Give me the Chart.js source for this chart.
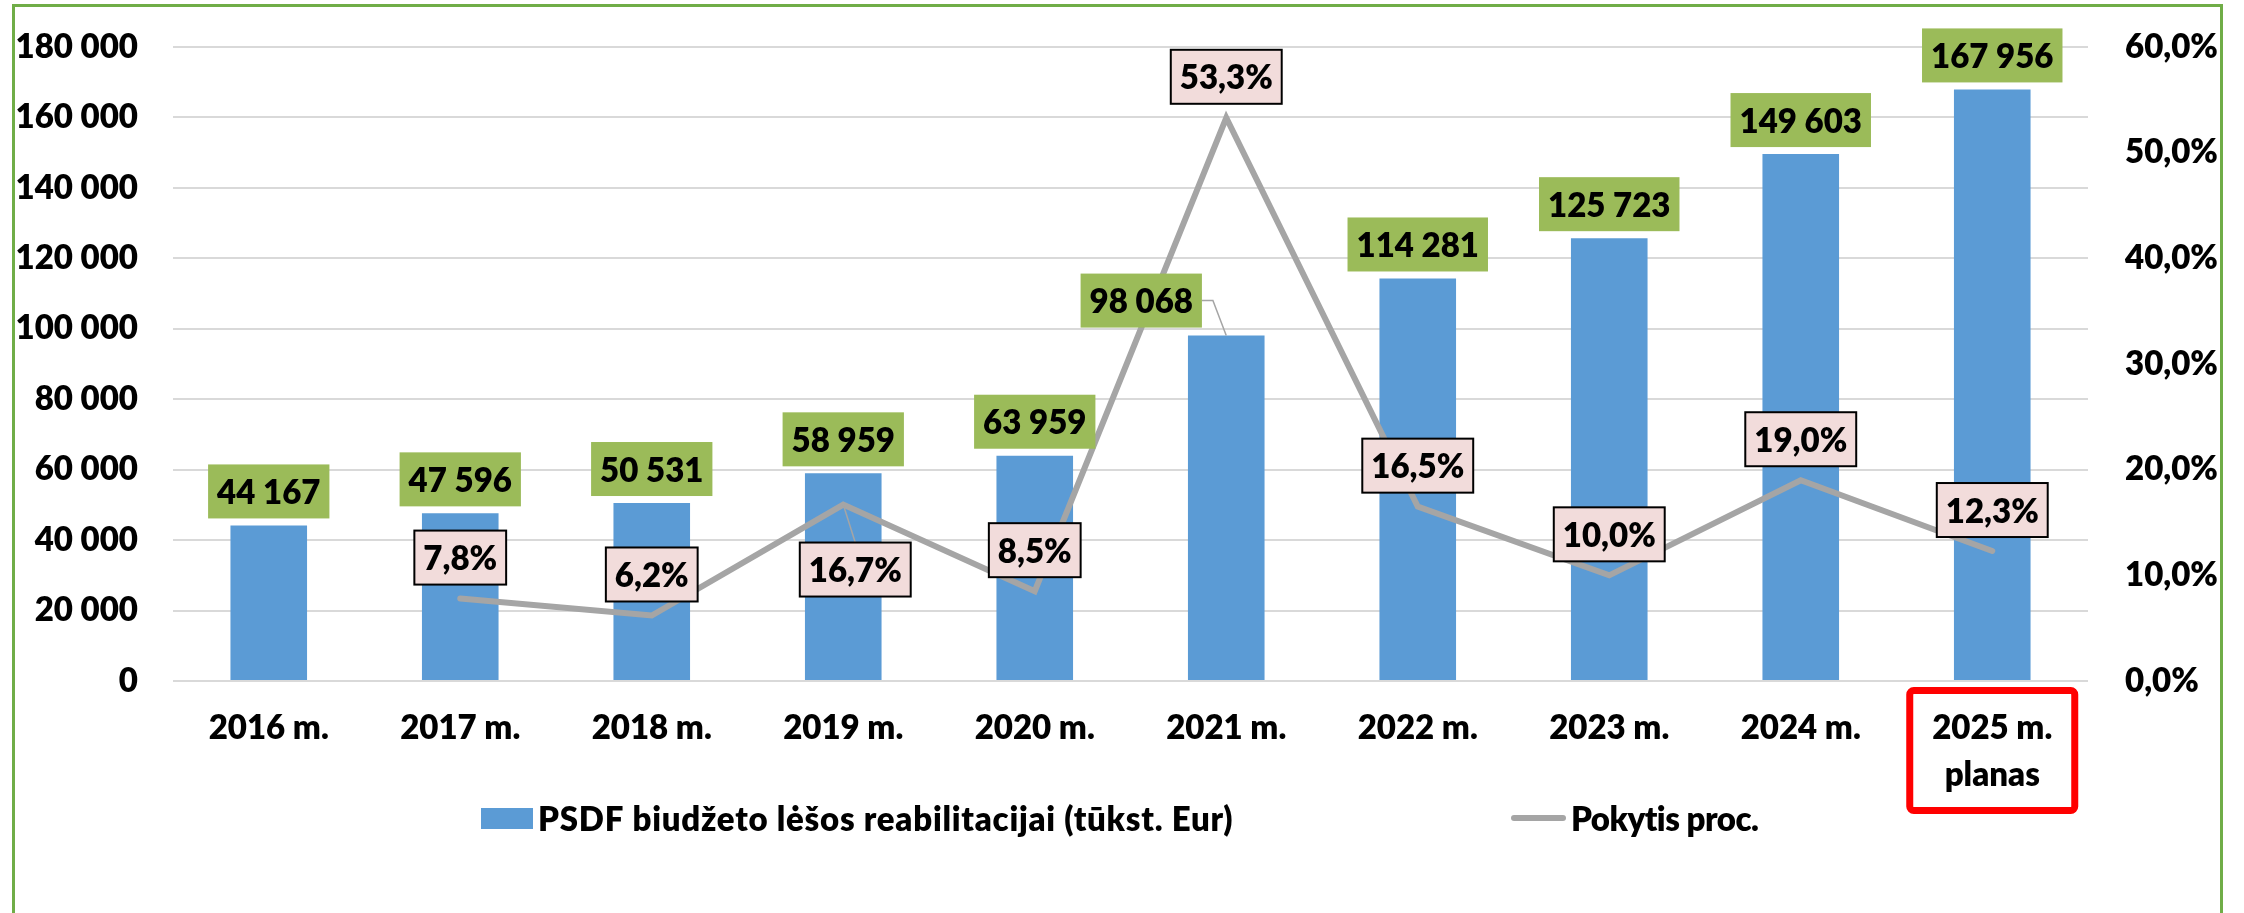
<!DOCTYPE html>
<html>
<head>
<meta charset="utf-8">
<script src="https://cdn.jsdelivr.net/npm/chart.js@4.4.1/dist/chart.umd.min.js"></script>
<style>
    html, body { margin: 0; padding: 0; background: #fff; }
    canvas     { display: block; }
</style>
</head>
<body>
<canvas id="chart" width="2244" height="913"></canvas>
<script>
const YEARS      = ['2016 m.', '2017 m.', '2018 m.', '2019 m.', '2020 m.',
                    '2021 m.', '2022 m.', '2023 m.', '2024 m.', ['2025 m.', 'planas']];
const BUDGET     = [44167, 47596, 50531, 58959, 63959, 98068, 114281, 125723, 149603, 167956];
const CHANGE_PCT = [null, 7.8, 6.2, 16.7, 8.5, 53.3, 16.5, 10.0, 19.0, 12.3];
const BAR_NAME   = 'PSDF biudžeto lėšos reabilitacijai (tūkst. Eur)';
const LINE_NAME  = 'Pokytis proc.';
const LEFT_MAX   = 180000, LEFT_STEP  = 20000;
const RIGHT_MAX  = 60,     RIGHT_STEP = 10;

const FONT       = 'Lato, "Open Sans", sans-serif';
const FONT_SIZE  = 33;
const WEIGHT     = '800';
const BAR_COLOR  = '#5B9BD5';
const LINE_COLOR = '#A5A5A5';
const GREEN_TAG  = '#9BBB59';
const PINK_TAG   = '#F2DCDB';
const FRAME      = '#70AD47';

// labels that Excel moved away from their default spot (index -> shift)
const BAR_TAG_MOVED  = { 5: { dx: -85, dy: -35 } };
const LINE_TAG_BELOW = { 3: { dx: 12, gap: 38 } };

const fmtThousands = v => String(v).replace(/\B(?=(\d{3})+(?!\d))/g, ' ');
const fmtPct       = v => v.toFixed(1).replace('.', ',') + '%';
const font         = () => `${WEIGHT} ${FONT_SIZE}px ${FONT}`;


function drawTag(ctx, text, cx, cy, fill, border) {
    ctx.font = font();
    const w = ctx.measureText(text).width + 18;
    const h = 54;
    ctx.fillStyle = fill;
    ctx.fillRect(cx - w / 2, cy - h / 2, w, h);
    if (border) {
        ctx.lineWidth = 2;
        ctx.strokeStyle = '#000';
        ctx.strokeRect(cx - w / 2, cy - h / 2, w, h);
    }
    ctx.fillStyle = '#000';
    ctx.textAlign = 'center';
    ctx.textBaseline = 'middle';
    ctx.fillText(text, cx, cy + 2);
    return { w, h };
}

// y axes: keep width fixed and stop tick padding from pushing the plot down
function fixAxis(width) {
    return s => {
        s.width = width;
        s.paddingTop = 0;
        s.paddingBottom = 0;
    };
}

const decorations = {
    id: 'decorations',
    beforeDraw(chart) {
        const ctx = chart.ctx;
        ctx.save();
        ctx.fillStyle = '#fff';
        ctx.fillRect(0, 0, chart.width, chart.height);
        ctx.strokeStyle = FRAME;
        ctx.lineWidth = 3;
        ctx.strokeRect(13.5, 5.5, 2208, 930);   // bottom edge is off the picture
        ctx.restore();
    },
    afterDatasetsDraw(chart) {
        const ctx  = chart.ctx;
        const bars = chart.getDatasetMeta(1).data;
        const pts  = chart.getDatasetMeta(0).data;
        ctx.save();

        // value tags on bars
        bars.forEach((bar, i) => {
            const text  = fmtThousands(BUDGET[i]);
            const moved = BAR_TAG_MOVED[i];
            if (moved) {
                const cx = bar.x + moved.dx, cy = bar.y + moved.dy;
                ctx.font = font();
                const w = ctx.measureText(text).width + 18;
                ctx.strokeStyle = LINE_COLOR;
                ctx.lineWidth = 1.5;
                ctx.beginPath();
                ctx.moveTo(cx + w / 2, cy);
                ctx.lineTo(cx + w / 2 + 11, cy);
                ctx.lineTo(bar.x, bar.y);
                ctx.stroke();
                drawTag(ctx, text, cx, cy, GREEN_TAG, false);
            } else {
                drawTag(ctx, text, bar.x, bar.y - 7 - 27, GREEN_TAG, false);
            }
        });

        // percent tags on line
        pts.forEach((pt, i) => {
            if (CHANGE_PCT[i] === null || pt.skip) return;
            const text  = fmtPct(CHANGE_PCT[i]);
            const below = LINE_TAG_BELOW[i];
            if (below) {
                const cx = pt.x + below.dx, top = pt.y + below.gap;
                ctx.strokeStyle = LINE_COLOR;
                ctx.lineWidth = 1.5;
                ctx.beginPath();
                ctx.moveTo(pt.x, pt.y);
                ctx.lineTo(cx, top);
                ctx.stroke();
                drawTag(ctx, text, cx, top + 27, PINK_TAG, true);
            } else {
                drawTag(ctx, text, pt.x, pt.y - 14 - 27, PINK_TAG, true);
            }
        });
        ctx.restore();
    },
    afterDraw(chart) {
        const ctx = chart.ctx;
        const xs  = chart.scales.x;
        const bottom = chart.chartArea.bottom;
        ctx.save();

        // red frame around the plan year
        const cx = xs.getPixelForValue(YEARS.length - 1);
        ctx.strokeStyle = '#FF0000';
        ctx.lineWidth = 7;
        ctx.beginPath();
        ctx.roundRect(cx - 86 + 3.5, bottom + 6 + 3.5, 172 - 7, 127 - 7, 4);
        ctx.stroke();

        // legend
        const ly = 818;
        ctx.fillStyle = BAR_COLOR;
        ctx.fillRect(481, ly - 10, 52, 21);
        ctx.strokeStyle = LINE_COLOR;
        ctx.lineWidth = 6;
        ctx.lineCap = 'round';
        ctx.beginPath();
        ctx.moveTo(1514, ly);
        ctx.lineTo(1563, ly);
        ctx.stroke();
        ctx.fillStyle = '#000';
        ctx.font = font();
        ctx.textAlign = 'left';
        ctx.textBaseline = 'middle';
        ctx.letterSpacing = '0.75px';
        ctx.fillText(BAR_NAME, 538, ly + 2);
        ctx.letterSpacing = '-0.5px';
        ctx.fillText(LINE_NAME, 1571, ly + 2);
        ctx.restore();
    }
};

Chart.defaults.font.family = FONT;
Chart.defaults.font.size   = FONT_SIZE;
Chart.defaults.font.weight = WEIGHT;
Chart.defaults.color       = '#000';

new Chart(document.getElementById('chart'), {
    data: {
        labels: YEARS,
        datasets: [
            {
                type: 'line',
                label: LINE_NAME,
                data: CHANGE_PCT,
                yAxisID: 'y1',
                borderColor: LINE_COLOR,
                borderWidth: 6,
                pointRadius: 0,
                tension: 0,
                borderCapStyle: 'round',
                borderJoinStyle: 'miter',
                order: 1
            },
            {
                type: 'bar',
                label: BAR_NAME,
                data: BUDGET,
                yAxisID: 'y',
                backgroundColor: BAR_COLOR,
                barPercentage: 0.4,
                categoryPercentage: 1.0,
                order: 2
            }
        ]
    },
    options: {
        responsive: false,
        animation: false,
        devicePixelRatio: 1,
        layout: { padding: { top: 47, left: 0, right: 0, bottom: 0 } },
        plugins: {
            legend: { display: false },
            tooltip: { enabled: false }
        },
        scales: {
            x: {
                grid: { display: false },
                border: { display: false },
                ticks: {
                    padding: 16,
                    maxRotation: 0,
                    autoSkip: false,
                    font: { size: FONT_SIZE, weight: WEIGHT, lineHeight: 1.42 }
                },
                afterFit: s => { s.height = 232; }
            },
            y: {
                position: 'left',
                min: 0,
                max: LEFT_MAX,
                grid: { color: '#D9D9D9', lineWidth: 2, drawTicks: false },
                border: { display: false },
                ticks: { stepSize: LEFT_STEP, padding: 35, callback: v => fmtThousands(v) },
                afterFit: fixAxis(173)
            },
            y1: {
                position: 'right',
                min: 0,
                max: RIGHT_MAX,
                grid: { display: false, drawTicks: false },
                border: { display: false },
                ticks: { stepSize: RIGHT_STEP, padding: 37, callback: v => fmtPct(v) },
                afterFit: fixAxis(156)
            }
        }
    },
    plugins: [decorations]
});
</script>
</body>
</html>
